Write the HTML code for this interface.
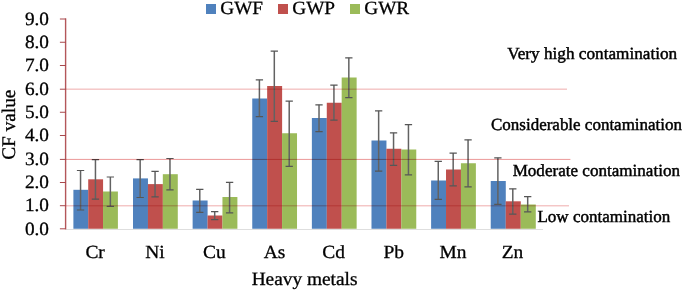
<!DOCTYPE html>
<html><head><meta charset="utf-8"><title>CF value chart</title>
<style>html,body{margin:0;padding:0;background:#fff;overflow:hidden}svg{will-change:transform;opacity:0.999}body{width:685px;height:292px;font-family:"Liberation Serif",serif}</style></head>
<body>
<svg width="685" height="292" viewBox="0 0 685 292" style="display:block;font-family:'Liberation Serif',serif" text-rendering="geometricPrecision">
<rect width="685" height="292" fill="#fff"/>
<defs><filter id="soft" x="0" y="0" width="100%" height="100%" filterUnits="userSpaceOnUse" color-interpolation-filters="sRGB"><feGaussianBlur stdDeviation="0.35"/></filter></defs>
<g filter="url(#soft)" style="isolation:isolate">
<rect width="685" height="292" fill="#fff"/>
<rect x="66" y="229.0" width="477" height="1.0" fill="#DEDEDE"/>
<rect x="73.39" y="189.80" width="14.87" height="38.95" fill="#4F81BD"/>
<rect x="88.21" y="179.30" width="14.87" height="49.45" fill="#C0504D"/>
<rect x="103.03" y="191.50" width="14.87" height="37.25" fill="#9BBB59"/>
<rect x="133.01" y="178.40" width="14.96" height="50.35" fill="#4F81BD"/>
<rect x="147.92" y="184.10" width="14.96" height="44.65" fill="#C0504D"/>
<rect x="162.82" y="174.20" width="14.96" height="54.55" fill="#9BBB59"/>
<rect x="192.63" y="200.50" width="14.96" height="28.25" fill="#4F81BD"/>
<rect x="207.54" y="215.50" width="14.96" height="13.25" fill="#C0504D"/>
<rect x="222.44" y="197.00" width="14.96" height="31.75" fill="#9BBB59"/>
<rect x="252.25" y="98.50" width="14.96" height="130.25" fill="#4F81BD"/>
<rect x="267.16" y="86.00" width="14.96" height="142.75" fill="#C0504D"/>
<rect x="282.06" y="133.25" width="14.96" height="95.50" fill="#9BBB59"/>
<rect x="311.87" y="118.00" width="14.96" height="110.75" fill="#4F81BD"/>
<rect x="326.78" y="102.75" width="14.96" height="126.00" fill="#C0504D"/>
<rect x="341.68" y="77.50" width="14.96" height="151.25" fill="#9BBB59"/>
<rect x="371.49" y="140.50" width="14.96" height="88.25" fill="#4F81BD"/>
<rect x="386.40" y="148.75" width="14.96" height="80.00" fill="#C0504D"/>
<rect x="401.30" y="149.50" width="14.96" height="79.25" fill="#9BBB59"/>
<rect x="431.11" y="180.50" width="14.96" height="48.25" fill="#4F81BD"/>
<rect x="446.02" y="169.50" width="14.96" height="59.25" fill="#C0504D"/>
<rect x="460.92" y="163.25" width="14.96" height="65.50" fill="#9BBB59"/>
<rect x="490.73" y="181.00" width="15.05" height="47.75" fill="#4F81BD"/>
<rect x="505.73" y="201.30" width="15.05" height="27.45" fill="#C0504D"/>
<rect x="520.73" y="204.50" width="15.05" height="24.25" fill="#9BBB59"/>
<rect x="64.90" y="18.4" width="1.4" height="210.95" fill="#B4565A"/>
<rect x="59.9" y="228.30" width="6" height="1.0" fill="#A8484C"/>
<rect x="59.9" y="205.20" width="6" height="1.0" fill="#A8484C"/>
<rect x="59.9" y="182.00" width="6" height="1.0" fill="#A8484C"/>
<rect x="59.9" y="158.90" width="6" height="1.0" fill="#A8484C"/>
<rect x="59.9" y="135.00" width="6" height="1.0" fill="#A8484C"/>
<rect x="59.9" y="111.75" width="6" height="1.0" fill="#A8484C"/>
<rect x="59.9" y="88.70" width="6" height="1.0" fill="#A8484C"/>
<rect x="59.9" y="65.00" width="6" height="1.0" fill="#A8484C"/>
<rect x="59.9" y="41.75" width="6" height="1.0" fill="#A8484C"/>
<rect x="59.9" y="18.50" width="6" height="1.0" fill="#A8484C"/>
<path d="M80.55 170.50V210.00" stroke="#626262" stroke-width="1.5" fill="none"/>
<path d="M76.89 170.50H84.20M76.89 210.00H84.20" stroke="#565656" stroke-width="1.2" fill="none"/>
<path d="M95.45 159.70V199.20" stroke="#626262" stroke-width="1.5" fill="none"/>
<path d="M91.80 159.70H99.10M91.80 199.20H99.10" stroke="#565656" stroke-width="1.2" fill="none"/>
<path d="M110.36 177.00V206.30" stroke="#626262" stroke-width="1.5" fill="none"/>
<path d="M106.70 177.00H114.01M106.70 206.30H114.01" stroke="#565656" stroke-width="1.2" fill="none"/>
<path d="M140.16 159.70V197.50" stroke="#626262" stroke-width="1.5" fill="none"/>
<path d="M136.51 159.70H143.81M136.51 197.50H143.81" stroke="#565656" stroke-width="1.2" fill="none"/>
<path d="M155.07 171.30V196.90" stroke="#626262" stroke-width="1.5" fill="none"/>
<path d="M151.42 171.30H158.72M151.42 196.90H158.72" stroke="#565656" stroke-width="1.2" fill="none"/>
<path d="M169.97 158.50V189.80" stroke="#626262" stroke-width="1.5" fill="none"/>
<path d="M166.32 158.50H173.62M166.32 189.80H173.62" stroke="#565656" stroke-width="1.2" fill="none"/>
<path d="M199.78 189.30V212.30" stroke="#626262" stroke-width="1.5" fill="none"/>
<path d="M196.13 189.30H203.43M196.13 212.30H203.43" stroke="#565656" stroke-width="1.2" fill="none"/>
<path d="M214.69 211.55V219.55" stroke="#626262" stroke-width="1.5" fill="none"/>
<path d="M211.04 211.55H218.34M211.04 219.55H218.34" stroke="#565656" stroke-width="1.2" fill="none"/>
<path d="M229.59 182.30V212.80" stroke="#626262" stroke-width="1.5" fill="none"/>
<path d="M225.94 182.30H233.24M225.94 212.80H233.24" stroke="#565656" stroke-width="1.2" fill="none"/>
<path d="M259.40 79.80V116.55" stroke="#626262" stroke-width="1.5" fill="none"/>
<path d="M255.75 79.80H263.05M255.75 116.55H263.05" stroke="#565656" stroke-width="1.2" fill="none"/>
<path d="M274.31 51.05V121.30" stroke="#626262" stroke-width="1.5" fill="none"/>
<path d="M270.66 51.05H277.96M270.66 121.30H277.96" stroke="#565656" stroke-width="1.2" fill="none"/>
<path d="M289.21 101.05V166.30" stroke="#626262" stroke-width="1.5" fill="none"/>
<path d="M285.56 101.05H292.86M285.56 166.30H292.86" stroke="#565656" stroke-width="1.2" fill="none"/>
<path d="M319.02 104.80V131.55" stroke="#626262" stroke-width="1.5" fill="none"/>
<path d="M315.37 104.80H322.67M315.37 131.55H322.67" stroke="#565656" stroke-width="1.2" fill="none"/>
<path d="M333.93 85.05V120.05" stroke="#626262" stroke-width="1.5" fill="none"/>
<path d="M330.28 85.05H337.58M330.28 120.05H337.58" stroke="#565656" stroke-width="1.2" fill="none"/>
<path d="M348.83 57.80V97.55" stroke="#626262" stroke-width="1.5" fill="none"/>
<path d="M345.18 57.80H352.48M345.18 97.55H352.48" stroke="#565656" stroke-width="1.2" fill="none"/>
<path d="M378.64 110.80V171.05" stroke="#626262" stroke-width="1.5" fill="none"/>
<path d="M374.99 110.80H382.29M374.99 171.05H382.29" stroke="#565656" stroke-width="1.2" fill="none"/>
<path d="M393.55 132.80V165.30" stroke="#626262" stroke-width="1.5" fill="none"/>
<path d="M389.90 132.80H397.20M389.90 165.30H397.20" stroke="#565656" stroke-width="1.2" fill="none"/>
<path d="M408.45 124.55V174.80" stroke="#626262" stroke-width="1.5" fill="none"/>
<path d="M404.80 124.55H412.10M404.80 174.80H412.10" stroke="#565656" stroke-width="1.2" fill="none"/>
<path d="M438.26 161.30V199.30" stroke="#626262" stroke-width="1.5" fill="none"/>
<path d="M434.61 161.30H441.91M434.61 199.30H441.91" stroke="#565656" stroke-width="1.2" fill="none"/>
<path d="M453.17 153.05V185.80" stroke="#626262" stroke-width="1.5" fill="none"/>
<path d="M449.52 153.05H456.82M449.52 185.80H456.82" stroke="#565656" stroke-width="1.2" fill="none"/>
<path d="M468.07 139.80V186.80" stroke="#626262" stroke-width="1.5" fill="none"/>
<path d="M464.42 139.80H471.72M464.42 186.80H471.72" stroke="#565656" stroke-width="1.2" fill="none"/>
<path d="M497.88 157.80V204.30" stroke="#626262" stroke-width="1.5" fill="none"/>
<path d="M494.23 157.80H501.53M494.23 204.30H501.53" stroke="#565656" stroke-width="1.2" fill="none"/>
<path d="M512.79 188.80V214.10" stroke="#626262" stroke-width="1.5" fill="none"/>
<path d="M509.14 188.80H516.44M509.14 214.10H516.44" stroke="#565656" stroke-width="1.2" fill="none"/>
<path d="M527.69 196.70V211.80" stroke="#626262" stroke-width="1.5" fill="none"/>
<path d="M524.04 196.70H531.34M524.04 211.80H531.34" stroke="#565656" stroke-width="1.2" fill="none"/>
<rect x="66" y="205.05" width="503.00" height="1.4" fill="#F4C4C4" style="mix-blend-mode:multiply"/>
<rect x="66" y="158.90" width="504.40" height="1.0" fill="#EC9898" style="mix-blend-mode:multiply"/>
<rect x="66" y="88.50" width="501.00" height="1.4" fill="#F4C4C4" style="mix-blend-mode:multiply"/>
<text transform="translate(24.89 234.85) scale(1.025 1)" font-size="18.8" stroke="#000" stroke-width="0.3">0.0</text>
<text transform="translate(24.89 211.49) scale(1.025 1)" font-size="18.8" stroke="#000" stroke-width="0.3">1.0</text>
<text transform="translate(24.89 188.13) scale(1.025 1)" font-size="18.8" stroke="#000" stroke-width="0.3">2.0</text>
<text transform="translate(24.89 164.77) scale(1.025 1)" font-size="18.8" stroke="#000" stroke-width="0.3">3.0</text>
<text transform="translate(24.89 141.41) scale(1.025 1)" font-size="18.8" stroke="#000" stroke-width="0.3">4.0</text>
<text transform="translate(24.89 118.05) scale(1.025 1)" font-size="18.8" stroke="#000" stroke-width="0.3">5.0</text>
<text transform="translate(24.89 94.69) scale(1.025 1)" font-size="18.8" stroke="#000" stroke-width="0.3">6.0</text>
<text transform="translate(24.89 71.33) scale(1.025 1)" font-size="18.8" stroke="#000" stroke-width="0.3">7.0</text>
<text transform="translate(24.89 47.97) scale(1.025 1)" font-size="18.8" stroke="#000" stroke-width="0.3">8.0</text>
<text transform="translate(24.89 24.61) scale(1.025 1)" font-size="18.8" stroke="#000" stroke-width="0.3">9.0</text>
<text transform="translate(85.38 258.20) scale(1.05 1)" font-size="18.5" stroke="#000" stroke-width="0.3">Cr</text>
<text transform="translate(145.34 258.20) scale(1.05 1)" font-size="18.5" stroke="#000" stroke-width="0.3">Ni</text>
<text transform="translate(203.06 258.20) scale(1.05 1)" font-size="18.5" stroke="#000" stroke-width="0.3">Cu</text>
<text transform="translate(263.80 258.20) scale(1.05 1)" font-size="18.5" stroke="#000" stroke-width="0.3">As</text>
<text transform="translate(322.30 258.20) scale(1.05 1)" font-size="18.5" stroke="#000" stroke-width="0.3">Cd</text>
<text transform="translate(383.39 258.20) scale(1.05 1)" font-size="18.5" stroke="#000" stroke-width="0.3">Pb</text>
<text transform="translate(439.58 258.20) scale(1.05 1)" font-size="18.5" stroke="#000" stroke-width="0.3">Mn</text>
<text transform="translate(501.71 258.20) scale(1.05 1)" font-size="18.5" stroke="#000" stroke-width="0.3">Zn</text>
<text transform="translate(251.63 285.40) scale(1.03 1)" font-size="18.8" stroke="#000" stroke-width="0.3">Heavy metals</text>
<text transform="translate(14.55 159.77) rotate(-90) scale(1.0 1)" font-size="19.3" stroke="#000" stroke-width="0.3">CF value</text>
<rect x="206" y="4" width="10" height="10" fill="#4F81BD"/>
<text transform="translate(220.23 14.30) scale(1.035 1)" font-size="18.6" stroke="#000" stroke-width="0.3">GWF</text>
<rect x="278" y="4" width="10" height="10" fill="#C0504D"/>
<text transform="translate(292.23 14.30) scale(1.035 1)" font-size="18.6" stroke="#000" stroke-width="0.3">GWP</text>
<rect x="350" y="4" width="10" height="10" fill="#9BBB59"/>
<text transform="translate(364.23 14.30) scale(1.035 1)" font-size="18.6" stroke="#000" stroke-width="0.3">GWR</text>
<text transform="translate(507.23 58.90) scale(1.011 1)" font-size="17.0" stroke="#000" stroke-width="0.45">Very high contamination</text>
<text transform="translate(491.02 130.40) scale(0.999 1)" font-size="17.0" stroke="#000" stroke-width="0.45">Considerable contamination</text>
<text transform="translate(512.66 175.90) scale(1.004 1)" font-size="17.0" stroke="#000" stroke-width="0.45">Moderate contamination</text>
<text transform="translate(537.46 222.40) scale(1.001 1)" font-size="17.0" stroke="#000" stroke-width="0.45">Low contamination</text>
</g>
</svg>
</body></html>
